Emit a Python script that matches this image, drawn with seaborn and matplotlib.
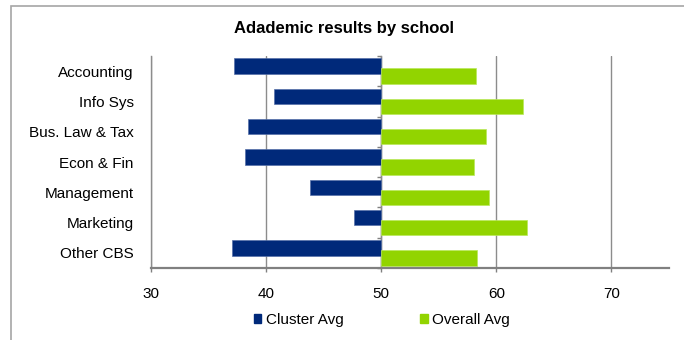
import matplotlib
matplotlib.use("Agg")
import matplotlib.pyplot as plt
import numpy as np
import seaborn as sns
from matplotlib.patches import Patch, Rectangle

# Category labels and the two series (scores per school)
categories = ["Accounting", "Info Sys", "Bus. Law & Tax", "Econ & Fin",
              "Management", "Marketing", "Other CBS"]
cluster_avg = [37.2, 40.7, 38.4, 38.2, 43.8, 47.6, 37.0]
overall_avg = [58.2, 62.3, 59.1, 58.1, 59.4, 62.7, 58.3]
x_ticks = [30, 40, 50, 60, 70]
series_names = ["Cluster Avg", "Overall Avg"]

NAVY = "#00297a"
GREEN = "#92d400"
GRID = "#8c8c8c"
AXIS = "#808080"
BASE = 50  # value axis crosses here; bars grow from it

sns.set_theme(style="white")
plt.rcParams["font.family"] = ["Liberation Sans", "DejaVu Sans"]
plt.rcParams["text.color"] = "black"

W, H = 684, 340
fig = plt.figure(figsize=(W / 100, H / 100), dpi=100)
fig.patch.set_facecolor("white")

left, right, top, bottom = 151, 669, 56, 268
ax = fig.add_axes([left / W, 1 - bottom / H, (right - left) / W, (bottom - top) / H])
ax.set_facecolor("white")

pos = np.arange(len(categories))
offset, bar_h = 0.165, 0.51
ax.barh(pos - offset, np.array(cluster_avg) - BASE, left=BASE, height=bar_h,
        color=NAVY, edgecolor="#5670a8", linewidth=0.5, zorder=3)
ax.barh(pos + offset, np.array(overall_avg) - BASE, left=BASE, height=bar_h,
        color=GREEN, edgecolor="#b9e85a", linewidth=0.5, zorder=3)

ax.set_xlim(30, 75)
ax.set_ylim(len(categories) - 0.5, -0.5)
ax.set_xticks(x_ticks)
ax.set_xticklabels([str(t) for t in x_ticks])
ax.set_yticks(pos)
ax.set_yticklabels(categories)

ax.grid(axis="x", color=GRID, linewidth=1.0, zorder=0)
ax.grid(axis="y", visible=False)
ax.set_axisbelow(True)

for side in ("top", "right"):
    ax.spines[side].set_visible(False)
ax.spines["left"].set_color(GRID)
ax.spines["left"].set_linewidth(1.0)
ax.spines["bottom"].set_color(AXIS)
ax.spines["bottom"].set_linewidth(1.6)
ax.spines["bottom"].set_zorder(4)

ax.tick_params(axis="x", bottom=True, length=3, width=1, color=AXIS,
               direction="out", pad=11, labelsize=11, labelcolor="black")
ax.tick_params(axis="y", left=False, length=0, pad=12.5, labelsize=11,
               labelcolor="black")

# category axis drawn at the crossing value, with boundary tick marks
sec = ax.secondary_yaxis((BASE - 30) / (75 - 30))
sec.set_yticks(np.arange(-0.5, len(categories), 1.0))
sec.tick_params(axis="y", left=True, right=False, length=3, width=1,
                color=AXIS, direction="out", labelleft=False, labelright=False)
sec.spines["left"].set_color(GRID)
sec.spines["left"].set_linewidth(1.0)

fig.text(344 / W, 1 - 28 / H, "Adademic results by school", ha="center",
         va="center", fontsize=12, fontweight="bold", color="black")

handles = [Patch(facecolor=NAVY, edgecolor=NAVY, label=series_names[0]),
           Patch(facecolor=GREEN, edgecolor=GREEN, label=series_names[1])]
fig.legend(handles=handles, loc="center", bbox_to_anchor=(382 / W, 1 - 320 / H),
           ncol=2, frameon=False, fontsize=11, handlelength=0.5,
           handleheight=0.5, handletextpad=0.3, columnspacing=5.0,
           labelcolor="black")

# outer chart frame (left and top edges visible)
fig.add_artist(Rectangle((10.5 / W, -0.2), 1.5, (1 - 5.5 / H) + 0.2,
                         transform=fig.transFigure, fill=False,
                         edgecolor="#a6a6a6", linewidth=1.2))

fig.savefig("out.png", dpi=100, facecolor="white")
